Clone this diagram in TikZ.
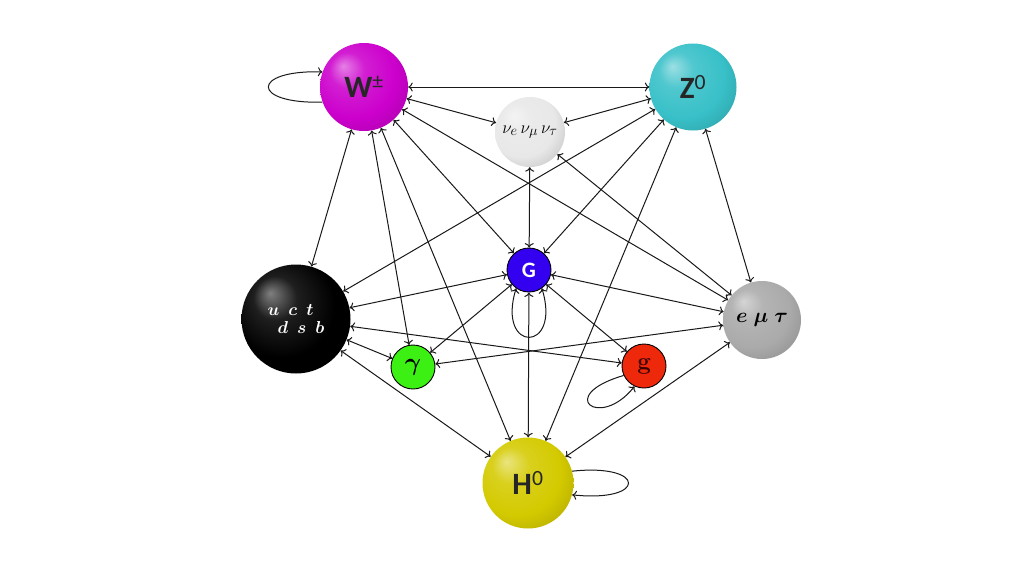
\documentclass[tikz,border=0pt]{standalone}
\usepackage{fontspec}
\usepackage{amsmath}
\usepackage{bm}
\newfontfamily\labfont{Carlito}
\usetikzlibrary{arrows.meta}
\definecolor{Wcol}{RGB}{204,0,204}
\definecolor{Zcol}{RGB}{56,192,200}
\definecolor{Nucol}{RGB}{232,232,232}
\definecolor{Lcol}{RGB}{170,170,170}
\definecolor{Qcol}{RGB}{0,0,0}
\definecolor{Hcol}{RGB}{212,202,0}
\definecolor{Gcol}{RGB}{52,0,240}
\definecolor{gacol}{RGB}{60,240,20}
\definecolor{glcol}{RGB}{238,40,10}
\definecolor{gtext}{RGB}{60,0,0}
\colorlet{sphc}{white}
\pgfdeclareradialshading[sphc]{sph}{\pgfqpoint{-12bp}{12bp}}{%
 color(0bp)=(sphc!50!white);
 color(10bp)=(sphc!88!white);
 color(24bp)=(sphc);
 color(38bp)=(sphc!82!black);
 color(50bp)=(sphc!62!black)}
\newcommand\biglab{\labfont\bfseries\fontsize{31}{31}\selectfont}
\tikzset{
  sph color/.code={\colorlet{sphc}{#1}},
  sphere/.style={circle, inner sep=0pt, shade, shading=sph},
  flat/.style={circle, inner sep=0pt, draw=black, line width=0.9pt, minimum size=44pt},
  link/.style={<->, line width=1pt, draw=black!90},
  selfloop/.style={->, line width=1pt, draw=black!90},
  >={To[length=4.5pt,width=9pt]},
}
\begin{document}
\begin{tikzpicture}[x=1pt,y=-1pt]
\path[fill=white] (0,0) rectangle (1024,576);
\useasboundingbox (0,0) rectangle (1024,576);
% nodes
\node[sphere, sph color=Wcol, minimum size=88pt, font=\biglab, text=black!85] (W) at (364,87) {W\textsuperscript{\mdseries ±}};
\node[sphere, sph color=Zcol, minimum size=87pt, font=\biglab, text=black!85] (Z) at (693,87) {Z\textsuperscript{\mdseries 0}};
\node[sphere, sph color=Nucol, minimum size=70pt, font=\fontsize{19}{19}\selectfont] (nu) at (530,132) {$\nu_e\hspace{3pt}\nu_\mu\hspace{3pt}\nu_\tau$};
\node[flat, fill=Gcol, text=white, font=\labfont\bfseries\fontsize{22}{22}\selectfont] (G) at (529,270) {G};
\node[sphere, sph color=Qcol, minimum size=109pt, text=white, align=left, font=\fontsize{19}{18}\selectfont] (Q) at (296,319) {$\bm{u}\hspace{9pt}\bm{c}\hspace{9pt}\bm{t}$\\\hspace*{10pt}$\bm{d}\hspace{9pt}\bm{s}\hspace{9pt}\bm{b}$};
\node[sphere, sph color=Lcol, minimum size=78pt, font=\fontsize{20}{20}\selectfont] (L) at (762,320) {$\bm{e\ \mu\ \tau}$};
\node[flat, fill=gacol, text=black, font=\fontsize{24}{24}\selectfont] (ga) at (413,367) {$\bm{\gamma}$};
\node[flat, fill=glcol, text=gtext, font=\bfseries\fontsize{24}{24}\selectfont] (gl) at (644,366) {g};
\node[sphere, sph color=Hcol, minimum size=91pt, font=\biglab, text=black!85] (H) at (528,483) {H\textsuperscript{\mdseries 0}};
% connectors
\foreach \a/\b in {W/Z, W/nu, nu/Z, W/Q, W/ga, W/G, W/H, W/L, Z/Q, Z/G, Z/H, Z/L,
  nu/G, nu/L, Q/G, Q/gl, Q/ga, Q/H, G/L, G/ga, G/gl, G/H, ga/L, L/H}
  \draw[link] (\a) -- (\b);
% self loops
\draw[selfloop] (W.200) .. controls +(-72,2) and +(-72,-2) .. (W.160);
\draw[link] (G.235) .. controls +(-20,65) and +(20,65) .. (G.305);
\draw[selfloop] (gl.205) .. controls +(-69,20) and +(-35,44) .. (gl.245);
\draw[selfloop] (H.15) .. controls +(75,-8) and +(75,8) .. (H.345);
\end{tikzpicture}
\end{document}
